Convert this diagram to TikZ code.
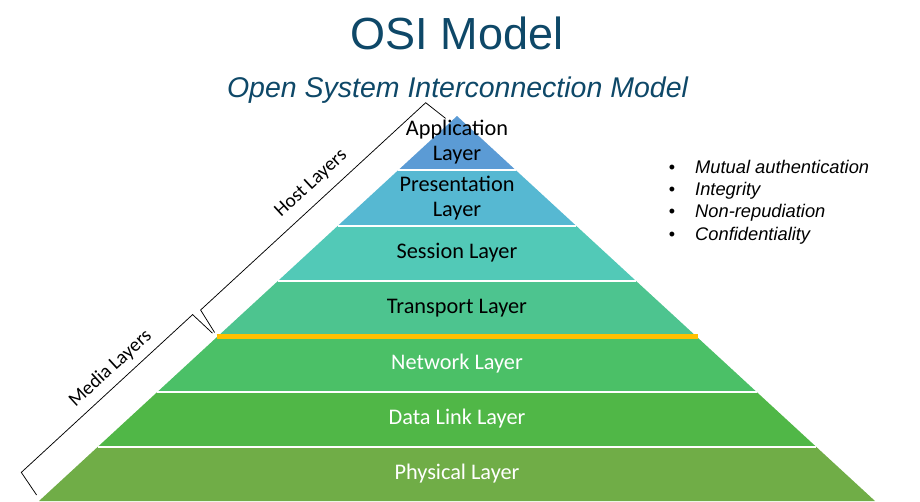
\documentclass[tikz,border=0pt]{standalone}
\usepackage{fontspec}
\setmainfont{Liberation Sans}
\newfontfamily\layerfont{Carlito}
\definecolor{titleblue}{RGB}{14,72,104}
\definecolor{appc}{RGB}{91,155,213}
\definecolor{presc}{RGB}{86,184,210}
\definecolor{sessc}{RGB}{82,201,183}
\definecolor{transc}{RGB}{77,196,143}
\definecolor{netc}{RGB}{75,192,103}
\definecolor{linkc}{RGB}{80,183,71}
\definecolor{physc}{RGB}{112,173,71}
\definecolor{splitc}{RGB}{255,192,0}
\begin{document}
\begin{tikzpicture}[x=1pt,y=-1pt,
  layertext/.style={font=\layerfont\fontsize{22.3}{24.5}\selectfont,align=center,inner sep=0pt},
  darktext/.style={layertext,text=black},
  lighttext/.style={layertext,text=white},
  sep/.style={white,line width=2pt},
  bracketline/.style={draw=black,line width=0.75pt,line join=miter},
  bracketlabel/.style={font=\layerfont\fontsize{19.5}{21}\selectfont,rotate=42.6,inner sep=0pt},
  bullettext/.style={font=\fontsize{18.3}{20}\selectfont\itshape,anchor=base west,inner sep=0pt},
  bulletdot/.style={font=\fontsize{18}{20}\selectfont,anchor=base,inner sep=0pt}]
\useasboundingbox (0,0) rectangle (920,501);
\fill[white] (0,0) rectangle (920,501);

% titles
\node[font=\fontsize{45}{50}\selectfont,text=titleblue,anchor=base,inner sep=0pt] (title) at (457,49) {OSI Model};
\node[font=\fontsize{28.5}{32}\selectfont\itshape,text=titleblue,anchor=base,inner sep=0pt] (subtitle) at (457.5,97) {Open System Interconnection Model};

% pyramid layers, top to bottom
\coordinate (apex) at (457,116);
\fill[appc]   (apex) -- (515.6,170) -- (398.4,170) -- cycle;
\fill[presc]  (398.4,170) -- (515.6,170) -- (576.4,226) -- (337.6,226) -- cycle;
\fill[sessc]  (337.6,226) -- (576.4,226) -- (636.1,281) -- (277.9,281) -- cycle;
\fill[transc] (277.9,281) -- (636.1,281) -- (695.9,336) -- (218.1,336) -- cycle;
\fill[netc]   (218.1,336) -- (695.9,336) -- (756.7,392) -- (157.3,392) -- cycle;
\fill[linkc]  (157.3,392) -- (756.7,392) -- (816.4,447) -- (97.6,447) -- cycle;
\fill[physc]  (97.6,447) -- (816.4,447) -- (875,501) -- (39,501) -- cycle;

% layer separators
\draw[sep] (398.4,170) -- (515.6,170);
\draw[sep] (337.6,226) -- (576.4,226);
\draw[sep] (277.9,281) -- (636.1,281);
\draw[sep] (157.3,392) -- (756.7,392);
\draw[sep] (97.6,447) -- (816.4,447);
\coordinate (splitL) at (216.5,336);
\coordinate (splitR) at (697.5,336);
\draw[splitc,line width=5pt] (splitL) -- (splitR);

% layer names
\node[darktext] (app) at (457,142) {Application\\Layer};
\node[darktext] (pres) at (457,198) {Presentation\\Layer};
\node[darktext,anchor=base] (sess) at (457,258.5) {Session Layer};
\node[darktext,anchor=base] (trans) at (457,313.5) {Transport Layer};
\node[lighttext,anchor=base] (net) at (457,369) {Network Layer};
\node[lighttext,anchor=base] (link) at (457,424.5) {Data Link Layer};
\node[lighttext,anchor=base] (phys) at (457,479) {Physical Layer};

% host layers bracket
\coordinate (h1) at (445.6,118.4);
\coordinate (h2) at (425.7,102.7);
\coordinate (h3) at (200.6,310.0);
\coordinate (h4) at (214.6,332.5);
\draw[bracketline] (h1) -- (h2) -- (h3) -- (h4);
\node[bracketlabel] (host) at (311.3,183.6) {Host Layers};

% media layers bracket
\coordinate (m1) at (212.4,333.1);
\coordinate (m2) at (192.6,314.6);
\coordinate (m3) at (21.3,472.4);
\coordinate (m4) at (36.6,495.0);
\draw[bracketline] (m1) -- (m2) -- (m3) -- (m4);
\node[bracketlabel] (media) at (110.5,368.6) {Media Layers};

% security services list
\node[bulletdot] (b1) at (672,173) {•};
\node[bullettext] (t1) at (695,173) {Mutual authentication};
\node[bulletdot] (b2) at (672,195.3) {•};
\node[bullettext] (t2) at (695,195.3) {Integrity};
\node[bulletdot] (b3) at (672,217.6) {•};
\node[bullettext] (t3) at (695,217.6) {Non-repudiation};
\node[bulletdot] (b4) at (672,240) {•};
\node[bullettext] (t4) at (695,240) {Confidentiality};
\end{tikzpicture}
\end{document}
